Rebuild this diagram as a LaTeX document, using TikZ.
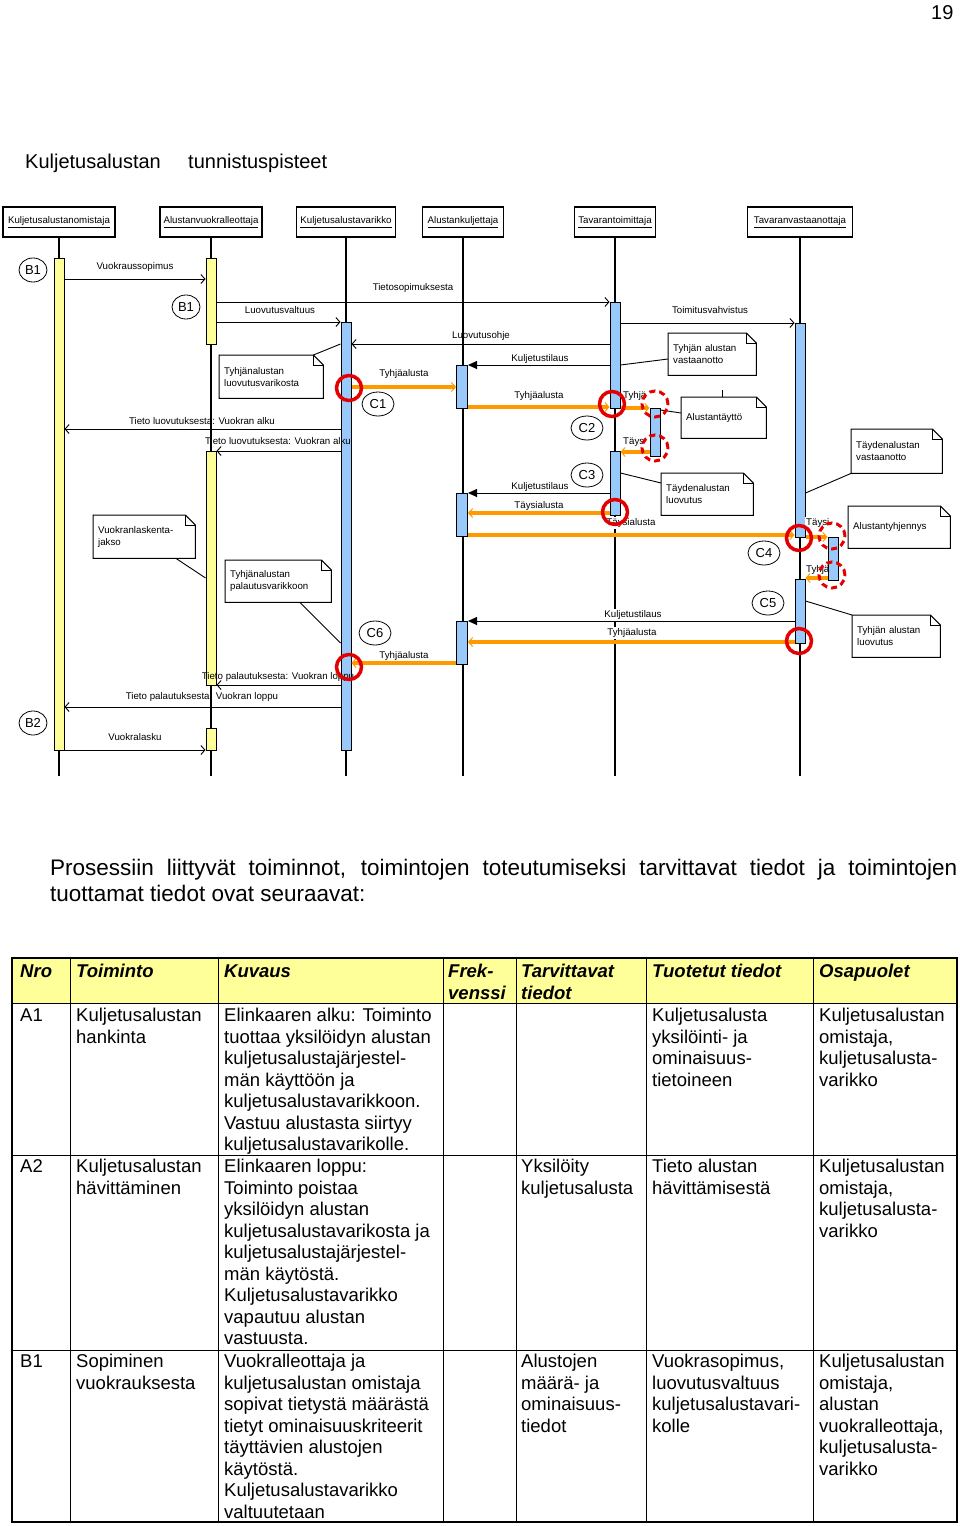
\documentclass[tikz,border=0pt]{standalone}
\usepackage{fontspec}
\setmainfont{Liberation Sans}
\usetikzlibrary{arrows.meta,shapes.geometric}
\definecolor{barY}{RGB}{255,255,153}
\definecolor{barB}{RGB}{153,200,250}
\definecolor{orng}{RGB}{255,153,0}
\definecolor{redc}{RGB}{228,0,0}
\definecolor{hdrY}{RGB}{255,255,153}
\tikzset{
 lbl/.style={font=\fontsize{9.7}{11.6}\selectfont, inner sep=1pt},
 wlbl/.style={lbl, fill=white},
 msg/.style={line width=0.9pt, -{Straight Barb[length=4pt,width=9pt]}},
 msgf/.style={line width=0.9pt, -{Triangle[length=9pt,width=8pt]}},
 flow/.style={draw=orng, line width=4pt, -{Straight Barb[length=4pt,width=9pt,line width=1pt]}},
 actor/.style={draw, line width=1.2pt, fill=white, minimum height=30pt, inner sep=0pt, font=\fontsize{9.7}{11.6}\selectfont},
 life/.style={line width=1.1pt},
 ybar/.style={draw, line width=1pt, fill=barY, minimum width=10pt, inner sep=0pt},
 bbar/.style={draw, line width=1pt, fill=barB, minimum width=10pt, inner sep=0pt},
 tag/.style={ellipse, draw, line width=0.8pt, inner sep=0pt, minimum width=32pt, minimum height=24pt, font=\fontsize{13}{15}\selectfont},
 btag/.style={tag, minimum width=28pt},
 hit/.style={draw=redc, line width=3.5pt, circle, minimum size=25pt, inner sep=0pt},
 dhit/.style={draw=redc, line width=3pt, dash pattern=on 6pt off 4pt, circle, minimum size=26pt, inner sep=0pt},
 notebody/.style={fill=white, inner sep=5pt, align=left, font=\fontsize{9.7}{12}\selectfont, anchor=north west},
 notel/.style={line width=0.9pt},
 cell/.style={anchor=north west, inner sep=0pt, align=left, font=\fontsize{18.5}{21.5}\selectfont},
 head/.style={cell, font=\fontsize{18.5}{21.5}\selectfont\bfseries\itshape},
}
\newcommand\mynote[6]{%
 \pgfmathsetmacro\ntw{#4-10}%
 \node[notebody, minimum height=#5pt, text width=\ntw pt] (#1) at (#2,#3) {#6};
 \draw[line width=1pt] (#1.north west) -- ([xshift=-10pt]#1.north east) -- ([yshift=-10pt]#1.north east) -- (#1.south east) -- (#1.south west) -- cycle;
 \draw[line width=1pt] ([xshift=-10pt]#1.north east) |- ([yshift=-10pt]#1.north east);
}
\begin{document}
\begin{tikzpicture}[x=1pt,y=-1pt]
\useasboundingbox (0,0) rectangle (960,1526);
\node[anchor=base east, font=\fontsize{20}{24}\selectfont] (pg) at (957,19) {19};
\node[anchor=base west, font=\fontsize{20}{24}\selectfont, inner sep=0pt] (t1) at (25,168) {Kuljetusalustan};
\node[anchor=base west, font=\fontsize{20}{24}\selectfont, inner sep=0pt] (t2) at (188,168) {tunnistuspisteet};

% actors
\node[actor, minimum width=112pt] (h1) at (59,222) {\underline{Kuljetusalustanomistaja}};
\node[actor, minimum width=102pt] (h2) at (211,222) {\underline{Alustanvuokralleottaja}};
\node[actor, minimum width=99pt] (h3) at (346,222) {\underline{Kuljetusalustavarikko}};
\node[actor, minimum width=81pt] (h4) at (463,222) {\underline{Alustankuljettaja}};
\node[actor, minimum width=81pt] (h5) at (615,222) {\underline{Tavarantoimittaja}};
\node[actor, minimum width=105pt] (h6) at (800,222) {\underline{Tavaranvastaanottaja}};
\foreach \h in {h1,h2,h3,h4,h5,h6} \draw[life] (\h.south) -- ++(0,538);

% activation bars
\node[ybar, minimum height=492pt] (A1) at (59,504) {};
\node[ybar, minimum height=86pt] (A2a) at (211,301) {};
\node[ybar, minimum height=234pt] (A2b) at (211,568) {};
\node[ybar, minimum height=22pt] (A2c) at (211,739) {};
\node[bbar, minimum height=428pt] (A3) at (346,536) {};
\node[bbar, minimum width=11pt, minimum height=43pt] (A4a) at (462,386.5) {};
\node[bbar, minimum width=11pt, minimum height=43pt] (A4b) at (462,514.5) {};
\node[bbar, minimum width=11pt, minimum height=43pt] (A4c) at (462,642.5) {};
\node[bbar, minimum height=106pt] (A5a) at (615,355) {};
\node[bbar, minimum height=64pt] (A5b) at (615,483) {};
\node[bbar, minimum height=48pt] (S5) at (655,432) {};
\node[bbar, minimum height=214pt] (A6a) at (800,430) {};
\node[bbar, minimum height=64pt] (A6b) at (800,611) {};
\node[bbar, minimum height=43pt] (S6) at (833,558.5) {};

% messages
\draw[msg] (A1.east |- 0,279) -- (A2a.west |- 0,279);
\draw[msg] (A2a.east |- 0,302) -- (A5a.west |- 0,302);
\draw[msg] (A2a.east |- 0,322) -- (A3.west |- 0,322);
\draw[msg] (A5a.east |- 0,323) -- (A6a.west |- 0,323);
\draw[msg] (A5a.west |- 0,344) -- (A3.east |- 0,344);
\draw[msgf] (A5a.west |- 0,365) -- (A4a.east |- 0,365);
\draw[flow] (A3.east |- 0,387) -- (A4a.west |- 0,387);
\draw[flow] (A4a.east |- 0,407) -- (A5a.west |- 0,407);
\draw[flow] (A5a.east |- 0,408) -- (S5.west |- 0,408);
\draw[flow] (S5.west |- 0,452) -- (A5b.east |- 0,452);
\draw[msg] (A3.west |- 0,429) -- (A1.east |- 0,429);
\draw[msg] (A3.west |- 0,451) -- (A2b.east |- 0,451);
\draw[msgf] (A5b.west |- 0,493) -- (A4b.east |- 0,493);
\draw[flow] (A5b.west |- 0,513) -- (A4b.east |- 0,513);
\draw[flow] (A4b.east |- 0,535) -- (A6a.west |- 0,535);
\draw[flow] (A6a.east |- 0,537) -- (S6.west |- 0,537);
\draw[flow] (S6.west |- 0,578) -- (A6b.east |- 0,578);
\draw[msgf] (A6b.west |- 0,621) -- (A4c.east |- 0,621);
\draw[flow] (A6b.west |- 0,642) -- (A4c.east |- 0,642);
\draw[flow] (A4c.west |- 0,663) -- (A3.east |- 0,663);
\draw[msg] (A3.west |- 0,685) -- (A2b.east |- 0,685);
\draw[msg] (A3.west |- 0,707) -- (A1.east |- 0,707);
\draw[msg] (A1.east |- 0,750) -- (A2c.west |- 0,750);

% labels
\node[lbl] (m1) at (135,267) {Vuokraussopimus};
\node[lbl] (m2) at (413,288) {Tietosopimuksesta};
\node[lbl] (m3) at (280,310) {Luovutusvaltuus};
\node[lbl] (m4) at (710,310) {Toimitusvahvistus};
\node[lbl] (m5) at (481,336) {Luovutusohje};
\node[lbl] (m6) at (540,359) {Kuljetustilaus};
\node[lbl] (m7) at (404,374) {Tyhjäalusta};
\node[lbl] (m8) at (539,396) {Tyhjäalusta};
\node[lbl, anchor=west] (m9) at (622,396) {Tyhjä};
\node[lbl, anchor=west] (m10) at (622,442) {Täys};
\node[lbl] (m11) at (202,421) {Tieto luovutuksesta: Vuokran alku};
\node[lbl] (m12) at (278,441) {Tieto luovutuksesta: Vuokran alku};
\node[lbl] (m13) at (540,487) {Kuljetustilaus};
\node[lbl] (m14) at (539,506) {Täysialusta};
\node[wlbl] (m15) at (631,523) {Täysialusta};
\node[wlbl, anchor=west] (m16) at (805,523) {Täysi};
\node[lbl, anchor=west] (m17) at (805,570) {Tyhjä};
\node[wlbl] (m18) at (633,615) {Kuljetustilaus};
\node[wlbl] (m19) at (632,633) {Tyhjäalusta};
\node[lbl] (m20) at (404,656) {Tyhjäalusta};
\node[lbl] (m21) at (278,677) {Tieto palautuksesta: Vuokran loppu};
\node[lbl] (m22) at (202,697) {Tieto palautuksesta: Vuokran loppu};
\node[lbl] (m23) at (135,737) {Vuokralasku};

% notes
\mynote{N1}{219}{355}{104}{43}{Tyhjänalustan\\luovutusvarikosta}
\draw[notel] ([xshift=-10pt]N1.north east) -- (A3.west |- 0,344);
\mynote{N2}{668}{333}{88}{42}{Tyhjän alustan\\vastaanotto}
\draw[notel] (N2.west |- 0,359) -- (A5a.east |- 0,365);
\mynote{N3}{681}{397}{85}{41}{Alustantäyttö}
\draw[notel] (N3.west |- 0,413) -- (S5.east |- 0,410);
\draw[line width=0.9pt] (N3.north -| 722,0) -- ++(0,-7);
\mynote{N4}{851}{429}{91}{44}{Täydenalustan\\vastaanotto}
\draw[notel] (N4.south west) -- (A6a.east |- 0,493);
\mynote{N5}{661}{473}{92}{42}{Täydenalustan\\luovutus}
\draw[notel] (N5.west |- 0,483) -- (A5b.east |- 0,473);
\mynote{N6}{848}{506}{102}{42}{Alustantyhjennys}
\mynote{N7}{852}{615}{88}{42}{Tyhjän alustan\\luovutus}
\draw[notel] (N7.north west) -- (A6b.east |- 0,601);
\mynote{N8}{93}{515}{102}{43}{Vuokranlaskenta-\\jakso}
\draw[notel] (N8.south -| 176,0) -- (A2b.west |- 0,578);
\mynote{N9}{225}{560}{106}{42}{Tyhjänalustan\\palautusvarikkoon}
\draw[notel] (N9.south -| 300,0) -- (A3.west |- 0,643);

% tags
\node[btag] (B1a) at (33,270) {B1};
\node[btag] (B1b) at (186,307) {B1};
\node[btag] (B2) at (33,723) {B2};
\node[tag] (C1) at (378,404) {C1};
\node[tag] (C2) at (587,428) {C2};
\node[tag] (C3) at (587,475) {C3};
\node[tag] (C4) at (764,553) {C4};
\node[tag] (C5) at (768,603) {C5};
\node[tag] (C6) at (375,633) {C6};

% identification points
\node[hit] (r1) at (349,388) {};
\node[hit] (r2) at (612,404) {};
\node[hit] (r3) at (615,512) {};
\node[hit] (r4) at (799,538) {};
\node[hit] (r5) at (799,641) {};
\node[hit] (r6) at (349,667) {};
\node[dhit] (d1) at (655,404) {};
\node[dhit] (d2) at (655,448) {};
\node[dhit] (d3) at (832,536) {};
\node[dhit] (d4) at (832,575) {};

% paragraph
\node[anchor=north west, inner sep=0pt, text width=907pt, align=justify, font=\fontsize{22.5}{26}\selectfont] (par) at (50,857)
 {\strut Prosessiin liittyvät toiminnot, toimintojen toteutumiseksi tarvittavat tiedot ja toimintojen\linebreak tuottamat tiedot ovat seuraavat:};

% table
\fill[hdrY] (12,958) rectangle (957,1003);
\draw[line width=1.2pt] (12,958) rectangle (957,1522);
\foreach \yy in {1003,1155,1350} \draw[line width=1pt] (12,\yy) -- (957,\yy);
\foreach \xx in {70,218,443,516,646,813} \draw[line width=1pt] (\xx,958) -- (\xx,1522);

\node[head] (th1) at (20,962.5) {\strut Nro};
\node[head] (th2) at (76,962.5) {\strut Toiminto};
\node[head] (th3) at (224,962.5) {\strut Kuvaus};
\node[head] (th4) at (448,962.5) {\strut Frek-\\venssi};
\node[head] (th5) at (521,962.5) {\strut Tarvittavat\\tiedot};
\node[head] (th6) at (652,962.5) {\strut Tuotetut tiedot};
\node[head] (th7) at (819,962.5) {\strut Osapuolet};

\node[cell] (a1n) at (20,1006.5) {\strut A1};
\node[cell] (a1t) at (76,1006.5) {\strut Kuljetusalustan\\hankinta};
\node[cell] (a1k) at (224,1006.5) {\strut Elinkaaren alku: Toiminto\\tuottaa yksilöidyn alustan\\kuljetusalustajärjestel-\\män käyttöön ja\\kuljetusalustavarikkoon.\\Vastuu alustasta siirtyy\\kuljetusalustavarikolle.};
\node[cell] (a1u) at (652,1006.5) {\strut Kuljetusalusta\\yksilöinti- ja\\ominaisuus-\\tietoineen};
\node[cell] (a1o) at (819,1006.5) {\strut Kuljetusalustan\\omistaja,\\kuljetusalusta-\\varikko};

\node[cell] (a2n) at (20,1157.5) {\strut A2};
\node[cell] (a2t) at (76,1157.5) {\strut Kuljetusalustan\\hävittäminen};
\node[cell] (a2k) at (224,1157.5) {\strut Elinkaaren loppu:\\Toiminto poistaa\\yksilöidyn alustan\\kuljetusalustavarikosta ja\\kuljetusalustajärjestel-\\män käytöstä.\\Kuljetusalustavarikko\\vapautuu alustan\\vastuusta.};
\node[cell] (a2r) at (521,1157.5) {\strut Yksilöity\\kuljetusalusta};
\node[cell] (a2u) at (652,1157.5) {\strut Tieto alustan\\hävittämisestä};
\node[cell] (a2o) at (819,1157.5) {\strut Kuljetusalustan\\omistaja,\\kuljetusalusta-\\varikko};

\node[cell] (b1n) at (20,1352.5) {\strut B1};
\node[cell] (b1t) at (76,1352.5) {\strut Sopiminen\\vuokrauksesta};
\node[cell] (b1k) at (224,1352.5) {\strut Vuokralleottaja ja\\kuljetusalustan omistaja\\sopivat tietystä määrästä\\tietyt ominaisuuskriteerit\\täyttävien alustojen\\käytöstä.\\Kuljetusalustavarikko\\valtuutetaan};
\node[cell] (b1r) at (521,1352.5) {\strut Alustojen\\määrä- ja\\ominaisuus-\\tiedot};
\node[cell] (b1u) at (652,1352.5) {\strut Vuokrasopimus,\\luovutusvaltuus\\kuljetusalustavari-\\kolle};
\node[cell] (b1o) at (819,1352.5) {\strut Kuljetusalustan\\omistaja,\\alustan\\vuokralleottaja,\\kuljetusalusta-\\varikko};
\end{tikzpicture}
\end{document}
